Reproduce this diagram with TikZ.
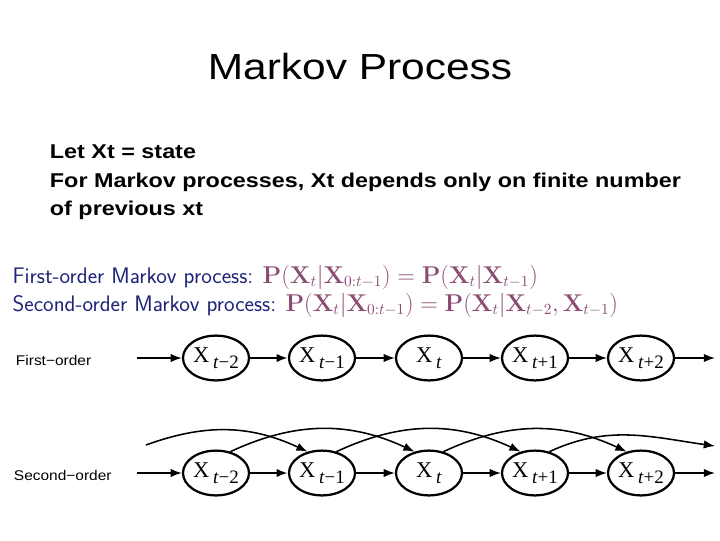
\documentclass[tikz,border=0pt]{standalone}
\usepackage{graphicx}
\usepackage[no-math]{fontspec}
\setmainfont{Liberation Sans}
\newfontfamily\tmsfont{Liberation Serif}
\usetikzlibrary{shapes.geometric,arrows.meta}

\definecolor{eqnavy}{RGB}{30,35,120}
\definecolor{eqmauve}{RGB}{140,75,115}

% slide text is a little stretched sideways
\newcommand{\stretched}[1]{\scalebox{1.17}[1]{#1}}
\newcommand{\statelabel}[1]{{\tmsfont X\,\raisebox{-0.6ex}{\fontsize{13.5}{15}\selectfont#1}}}

\begin{document}
\begin{tikzpicture}[
  x=0.025cm, y=-0.025cm,
  title/.style={anchor=base, font=\fontsize{25.8}{30}\selectfont},
  bodyline/.style={anchor=base west, font=\bfseries\fontsize{14.2}{17}\selectfont},
  eqline/.style={anchor=base west, text=eqnavy, inner sep=1pt,
                 font=\sffamily\fontsize{16}{19}\selectfont},
  rowlabel/.style={anchor=base west, font=\fontsize{10}{12}\selectfont},
  state/.style={draw, ellipse, line width=1.6pt, minimum width=1.65cm,
                minimum height=1.12cm, inner sep=0pt, font=\fontsize{16}{18}\selectfont},
  link/.style={line width=1.1pt, -{Latex[length=8pt,width=6pt]}}
]
\useasboundingbox (0,0) rectangle (720,540);

\node[title] (heading) at (360,79) {\stretched{Markov Process}};

\node[bodyline] (letline) at (45,158) {\stretched{Let Xt = state}};
\node[bodyline] (forline) at (45,187) {\stretched{For Markov processes, Xt depends only on finite number}};
\node[bodyline] (ofline) at (45,215) {\stretched{of previous xt}};

\node[eqline] (firsteq) at (11,283) {First-order Markov process:
  \textcolor{eqmauve}{$\mathbf{P}(\mathbf{X}_t|\mathbf{X}_{0:t-1})=\mathbf{P}(\mathbf{X}_t|\mathbf{X}_{t-1})$}};
\node[eqline] (secondeq) at (11,311) {Second-order Markov process:
  \textcolor{eqmauve}{$\mathbf{P}(\mathbf{X}_t|\mathbf{X}_{0:t-1})=\mathbf{P}(\mathbf{X}_t|\mathbf{X}_{t-2},\mathbf{X}_{t-1})$}};

% first-order chain
\node[rowlabel] (firstlabel) at (11,365) {\scalebox{1.1}[1]{First−order}};
\node[state] (f1) at (216,358) {\statelabel{\textit{t}−2}};
\node[state] (f2) at (322,358) {\statelabel{\textit{t}−1}};
\node[state] (f3) at (429,358) {\statelabel{\textit{t}}};
\node[state] (f4) at (535,358) {\statelabel{\textit{t}+1}};
\node[state] (f5) at (641,358) {\statelabel{\textit{t}+2}};
\coordinate (fin) at (137,358);
\coordinate (fout) at (715,358);

\draw[link] (fin) -- (f1);
\draw[link, line width=1.8pt] (f1) -- (f2);
\draw[link] (f2) -- (f3);
\draw[link] (f3) -- (f4);
\draw[link] (f4) -- (f5);
\draw[link] (f5) -- (fout);

% second-order chain
\node[rowlabel] (secondlabel) at (9,480) {\scalebox{1.1}[1]{Second−order}};
\node[state] (s1) at (216,473) {\statelabel{\textit{t}−2}};
\node[state] (s2) at (322,473) {\statelabel{\textit{t}−1}};
\node[state] (s3) at (429,473) {\statelabel{\textit{t}}};
\node[state] (s4) at (535,473) {\statelabel{\textit{t}+1}};
\node[state] (s5) at (641,473) {\statelabel{\textit{t}+2}};
\coordinate (sin) at (137,473);
\coordinate (sout) at (715,473);
\coordinate (arcin) at (146,445);
\coordinate (arcout) at (715,446);

\draw[link] (sin) -- (s1);
\draw[link, line width=1.8pt] (s1) -- (s2);
\draw[link] (s2) -- (s3);
\draw[link] (s3) -- (s4);
\draw[link] (s4) -- (s5);
\draw[link] (s5) -- (sout);

\draw[link] (arcin) to[out=20, in=155] (s2.124);
\draw[link] (s1.56) to[out=25, in=155] (s3.124);
\draw[link] (s2.56) to[out=25, in=155] (s4.124);
\draw[link] (s3.56) to[out=25, in=155] (s5.124);
\draw[link] (s4.56) to[out=25, in=172] (arcout);
\end{tikzpicture}
\end{document}
